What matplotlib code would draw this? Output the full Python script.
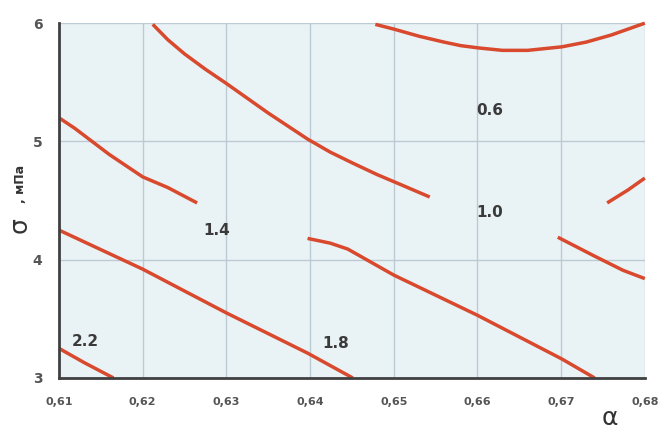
import matplotlib
matplotlib.use("Agg")
import matplotlib.pyplot as plt

# contour lines (alpha, sigma)
c06_x = [0.6478, 0.6500, 0.6530, 0.6560, 0.6580, 0.6602, 0.6630, 0.6660, 0.6701, 0.6730, 0.6760, 0.6800]
c06_y = [5.99, 5.95, 5.89, 5.84, 5.81, 5.79, 5.77, 5.77, 5.80, 5.84, 5.90, 6.00]

c10a_x = [0.6212, 0.6230, 0.6250, 0.6275, 0.6300, 0.6350, 0.6397, 0.6424, 0.6450, 0.6480, 0.6510, 0.6543]
c10a_y = [5.99, 5.86, 5.74, 5.61, 5.49, 5.24, 5.02, 4.91, 4.82, 4.72, 4.63, 4.53]

c10b_x = [0.6755, 0.6780, 0.6800]
c10b_y = [4.48, 4.59, 4.69]

c14_x = [0.6100, 0.6119, 0.6160, 0.6200, 0.6230, 0.6265]
c14_y = [5.20, 5.11, 4.89, 4.70, 4.61, 4.48]

c18a_x = [0.6100, 0.6200, 0.6300, 0.6397, 0.6451]
c18a_y = [4.25, 3.92, 3.55, 3.21, 3.00]

c18b_x = [0.6397, 0.6424, 0.6445, 0.6460, 0.6500, 0.6600, 0.6701, 0.6740]
c18b_y = [4.18, 4.14, 4.09, 4.03, 3.87, 3.53, 3.16, 3.00]

c18c_x = [0.6696, 0.6740, 0.6774, 0.6800]
c18c_y = [4.19, 4.03, 3.91, 3.84]

c22_x = [0.6100, 0.6130, 0.6165]
c22_y = [3.25, 3.13, 3.00]

curves = [(c06_x, c06_y), (c10a_x, c10a_y), (c10b_x, c10b_y), (c14_x, c14_y),
          (c18a_x, c18a_y), (c18b_x, c18b_y), (c18c_x, c18c_y), (c22_x, c22_y)]

label_text = ["0.6", "1.0", "1.4", "1.8", "2.2"]
label_x = [0.6615, 0.6615, 0.6289, 0.6431, 0.6131]
label_y = [5.26, 4.40, 4.25, 3.29, 3.31]

x_ticks = [0.61, 0.62, 0.63, 0.64, 0.65, 0.66, 0.67, 0.68]
x_tick_labels = ["0,61", "0,62", "0,63", "0,64", "0,65", "0,66", "0,67", "0,68"]
y_ticks = [3, 4, 5, 6]
y_tick_labels = ["3", "4", "5", "6"]

fig = plt.figure(figsize=(6.6, 4.29), dpi=100)
ax = fig.add_axes([0.0894, 0.119, 0.8876, 0.827])
ax.set_facecolor("#e9f3f6")
ax.set_xlim(0.61, 0.68)
ax.set_ylim(3, 6)

ax.set_xticks(x_ticks)
ax.set_xticklabels(x_tick_labels)
ax.set_yticks(y_ticks)
ax.set_yticklabels(y_tick_labels)
ax.grid(True, color="#bccad4", lw=1.0)
ax.set_axisbelow(True)
for s in ["top", "right"]:
    ax.spines[s].set_visible(False)
for s in ["left", "bottom"]:
    ax.spines[s].set_color("#404040")
    ax.spines[s].set_linewidth(2)
ax.tick_params(axis="x", length=0, pad=14, colors="#555555")
ax.tick_params(axis="y", length=0, pad=12, colors="#555555")
for lab in ax.get_xticklabels():
    lab.set_fontsize(8)
    lab.set_fontweight("bold")
for lab in ax.get_yticklabels():
    lab.set_fontsize(10)
    lab.set_fontweight("bold")

for cx, cy in curves:
    ax.plot(cx, cy, color="#d8492e", lw=2.5, solid_capstyle="butt", clip_on=False)

for t, lx, ly in zip(label_text, label_x, label_y):
    ax.text(lx, ly, t, fontsize=11, fontweight="bold", color="#3a3a3a",
            ha="center", va="center")

fig.text(20 / 660, 1 - 225 / 429, "σ", fontsize=18, rotation=90,
         ha="center", va="center", color="#333333")
fig.text(20 / 660, 1 - 184 / 429, ", мПа", fontsize=9, fontweight="bold", rotation=90,
         ha="center", va="center", color="#333333")
fig.text(610 / 660, 1 - 418 / 429, "α", fontsize=18,
         ha="center", va="center", color="#333333")

fig.savefig("out.png", dpi=100)
